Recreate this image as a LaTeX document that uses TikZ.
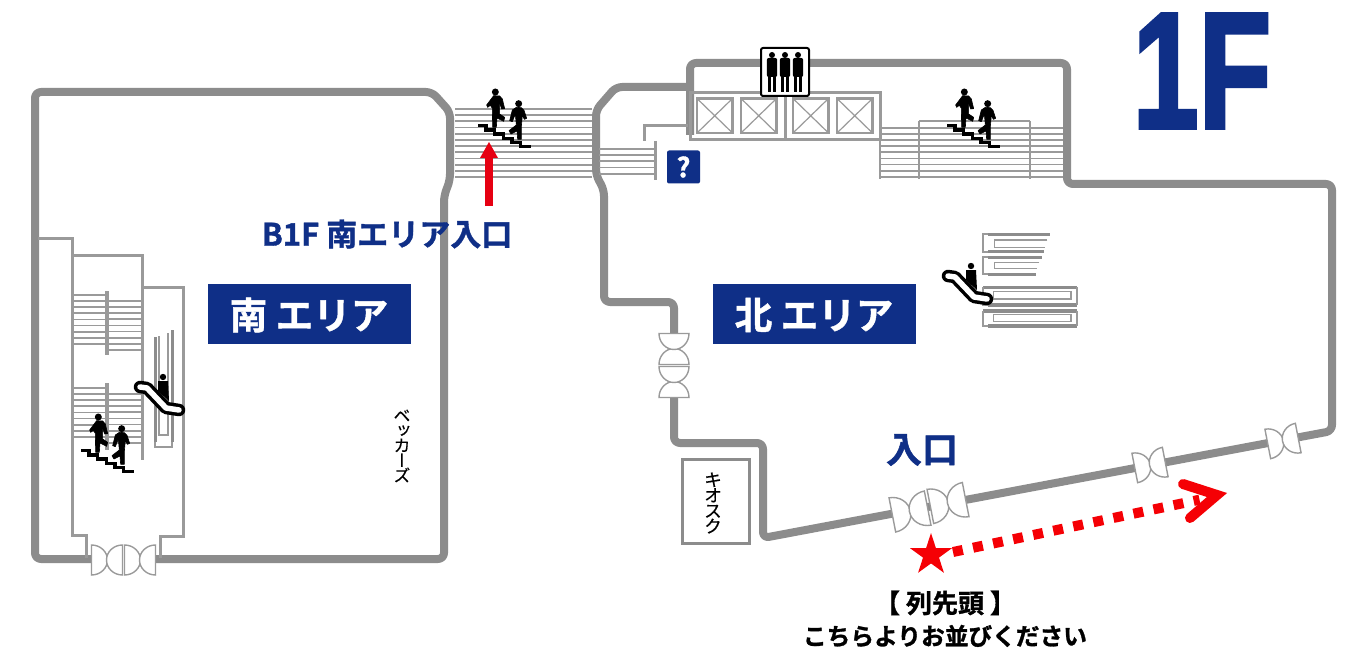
\documentclass[tikz,border=0pt]{standalone}
\usepackage{fontspec}
\usetikzlibrary{shapes.geometric}
\setmainfont{Noto Sans CJK JP}
\newfontfamily\jp{Noto Sans CJK JP}
\newfontfamily\jph[FakeBold=1.2]{Noto Sans CJK JP Bold}
\newfontfamily\jpv[RawFeature={+vert},FakeBold=0.4]{Noto Sans CJK JP}
\newfontfamily\bigf[FakeBold=2.5]{Liberation Sans Bold}
\definecolor{wallc}{HTML}{8C8C8C}
\definecolor{thinc}{HTML}{9A9A9A}
\definecolor{navyc}{HTML}{0F2F87}
\definecolor{redc}{HTML}{E60012}
\definecolor{dotc}{HTML}{F50005}
\tikzset{
 wall/.style={draw=wallc,line width=8,rounded corners=6,line join=round},
 thinwall/.style={draw=thinc,line width=3},
 stairline/.style={draw=thinc,line width=1.8},
 blockthick/.style={draw=wallc,line width=3.2},
 blockthin/.style={draw=thinc,line width=1.6},
 xbox/.style={draw=thinc,line width=2.4},
 label/.style={inner sep=0,outer sep=0},
 pics/doorunit/.style={code={
  \path[draw=thinc,line width=1.4,fill=white] (-15.5,-15) .. controls (-6.7,-15) and (0.5,-8.3) .. (0.5,0) .. controls (0.5,8.3) and (-6.7,15) .. (-15.5,15) -- cycle;
  \path[draw=thinc,line width=1.4,fill=white] (15.5,-15) .. controls (6.7,-15) and (-0.5,-8.3) .. (-0.5,0) .. controls (-0.5,8.3) and (6.7,15) .. (15.5,15) -- cycle;
 }},
 pics/walkers/.style={code={
  \begin{scope}[x=.33333pt,y=-.33333pt,shift={(-113,-285)}]
   \draw[black,line width=3.2,line join=miter] (113,287) -- (137,287) -- (137,300) -- (163,300) -- (163,312) -- (189,312) -- (189,325) -- (215,325) -- (215,338) -- (241,338) -- (241,350) -- (273,350);
   \fill[black] (165,186) circle[radius=3.5pt];
   \filldraw[black,line width=.6,line join=round] (160,197) -- (178,198) -- (186,207) -- (193,236) -- (184,237) -- (178,220) -- (178,252) -- (193,262) -- (190,274) -- (170,264) -- (168,292) -- (157,292) -- (156,235) -- (150,226) -- (142,232) -- (139,225) -- cycle;
   \fill[black] (235,221) circle[radius=3.5pt];
   \filldraw[black,line width=.6,line join=round] (228,232) -- (243,233) -- (251,241) -- (259,265) -- (252,268) -- (246,256) -- (243,290) -- (243,328) -- (232,328) -- (230,303) -- (212,312) -- (206,302) -- (228,285) -- (225,252) -- (216,275) -- (208,272) -- (216,240) -- cycle;
  \end{scope}
 }},
 pics/escal/.style={code={
  \fill[black] (23,-10) circle[radius=3.2];
  \fill[black] (18,-6) -- (28,-6) -- (29,14) -- (18,4) -- cycle;
  \draw[black,line width=12.5,line cap=round,line join=round] (0,0) -- (7,1) -- (26,21) -- (39,23);
  \draw[white,line width=5.5,line cap=round,line join=round] (0,0) -- (7,1) -- (26,21) -- (39,23);
 }},
 pics/person/.style={code={
  \fill[black] (0,0) circle[radius=3];
  \fill[black,rounded corners=2] (-5.2,3) rectangle (5.2,22);
  \fill[black] (-4,21) rectangle (-1.2,37);
  \fill[black] (1.2,21) rectangle (4,37);
 }},
}
\begin{document}
\begin{tikzpicture}[x=1pt,y=-1pt]
\useasboundingbox (0,0) rectangle (1350,658);
\fill[white] (0,0) rectangle (1350,658);

% ---- walls
\path[wall] (92,559) -- (35,559) -- (35,92) -- (432,92) -- (450,112) -- (450,180) -- (444,196) -- (444,559) -- (155,559);
\path[wall] (690,135) -- (690,63) -- (1067,63) -- (1067,184) -- (1332,184) -- (1332,431) -- (763,538) -- (763,443) -- (674,443) -- (674,397);
\path[wall,line cap=butt] (690,87) -- (616,87) -- (596,110) -- (596,175) -- (604,190) -- (604,302) -- (674,302) -- (674,335);

% ---- south stairwell
\draw[thinwall,line join=miter] (38,238) -- (72,238) -- (72,535) -- (86,535) -- (86,558);
\draw[thinwall] (72,255) -- (142,255) -- (142,460);
\draw[thinwall,line join=miter] (142,287) -- (183,287) -- (183,536) -- (160,536) -- (160,558);
\foreach \y in {295,301.1,...,344.5} \draw[stairline] (73,\y) -- (107,\y);
\foreach \y in {301,307.1,...,350.5} \draw[stairline] (107,\y) -- (141,\y);
\foreach \y in {388,394.1,...,437.5} \draw[stairline] (73,\y) -- (107,\y);
\foreach \y in {394,400.1,...,443.5} \draw[stairline] (107,\y) -- (141,\y);
\draw[thinc,line width=3.4] (107,291) -- (107,355);
\draw[thinc,line width=3.4] (107,383) -- (107,450);
% south escalator shaft
\draw[wallc,line width=3] (155,337) -- (155,442);
\draw[wallc,line width=3] (172,330) -- (172,442);
\draw[thinc,line width=1.4] (159,336) -- (159,435) -- (168,435) -- (168,333);
\draw[thinc,line width=1.4] (155,442) -- (155,447) -- (172,447) -- (172,442);
\pic at (140,387) {escal};
\pic at (81,450) {walkers};

% ---- doors
\pic at (107,560) {doorunit};
\pic at (140,560) {doorunit};
\pic[rotate=90] at (674,349) {doorunit};
\pic[rotate=90] at (674,382) {doorunit};
\pic[rotate=11,scale=1.16] at (910,511.5) {doorunit};
\pic[rotate=11,scale=1.16] at (948,503) {doorunit};
\pic[rotate=11] at (1150,465) {doorunit};
\pic[rotate=11] at (1283,441) {doorunit};

% ---- connecting stairs
\foreach \y in {109,115.2,...,177.5} \draw[stairline] (455,\y) -- (592,\y);
\foreach \y in {149,155.2,...,174.5} \draw[stairline] (599,\y) -- (654,\y);
\draw[thinc,line width=3] (655,141) -- (655,180);
\draw[thinc,line width=3,line join=miter] (644,141) -- (644,126) -- (688,126);
\pic at (478,125) {walkers};

% ---- elevators
\draw[thinc,line width=3] (690,93) rectangle (880,140);
\draw[thinc,line width=3] (785,93) -- (785,140);
\foreach \x in {697,741,793,837}{
 \draw[xbox] (\x,98.5) rectangle ++(35.5,34.5);
 \draw[thinc,line width=1.2] (\x,98.5) -- ++(35.5,34.5) (\x+35.5,98.5) -- ++(-35.5,34.5);
}
\foreach \y in {128,134.1,...,177.5} \draw[stairline] (880,\y) -- (1063,\y);
\draw[stairline] (919,121) -- (1030,121);
\draw[thinc,line width=2.4] (880,140) -- (880,179);
\draw[thinc,line width=2.4] (919,121) -- (919,179);
\draw[thinc,line width=2.4] (1030,121) -- (1030,179);
\pic at (947,125) {walkers};
\draw[black,line width=2,fill=white,rounded corners=2] (761,48) rectangle (809,96);
\pic at (772,55) {person};
\pic at (785,55) {person};
\pic at (798,55) {person};

% ---- info
\node[label,fill=navyc,rounded corners=2,minimum width=33,minimum height=33,text=white,font=\jph\fontsize{27}{27}\selectfont] (info) at (683.5,167) {?};

% ---- north escalator block
\begin{scope}[x=.33333pt,y=-.33333pt,shift={(2790,675)}]
 \draw[blockthick] (175,28) -- (360,28) (175,80) -- (342,80) (175,97) -- (335,97) (175,148) -- (317,148) (160,187) -- (442,187) (175,240) -- (442,240) (160,258) -- (442,258) (175,303) -- (442,303);
 \draw[thinc,line width=2] (175,28) -- (160,28) -- (160,80) -- (175,80) (175,97) -- (160,97) -- (160,148) -- (175,148) (160,187) -- (160,240) -- (175,240) (442,187) -- (442,240) (160,258) -- (160,303) -- (175,303) (442,258) -- (442,303);
 \draw[blockthin] (352,45) -- (193,45) -- (193,68) -- (345,68) (328,112) -- (193,112) -- (193,130) -- (322,130);
 \draw[blockthin] (190,200) rectangle (423,222) (190,268) rectangle (423,290);
\end{scope}
\pic at (948,276) {escal};

% ---- labels
\node[label,fill=navyc,minimum width=203,minimum height=60] (southbox) at (309.5,314) {};
\node[label,text=white,font=\jph\fontsize{37.5}{38}\selectfont] (southtxt) at (309,315) {南 エリア};
\node[label,fill=navyc,minimum width=203,minimum height=60] (northbox) at (814.5,314) {};
\node[label,text=white,font=\jph\fontsize{37.5}{38}\selectfont] (northtxt) at (814,315) {北 エリア};
\node[label,text=navyc,font=\jph\fontsize{31}{31}\selectfont] (b1f) at (387,234) {B1F 南エリア入口};
\node[label,text=navyc,font=\jph\fontsize{36}{36}\selectfont] (entry) at (922,450) {入口};
\node[label,align=center,font=\jpv\fontsize{17}{15}\selectfont] (bk) at (402,446) {ベ\\ッ\\カ\\ー\\ズ};
\draw[wallc,line width=3] (682,459) rectangle (749,543);
\node[label,align=center,font=\jpv\fontsize{18}{15.5}\selectfont] (kiosk) at (713,503) {キ\\オ\\ス\\ク};
\node[label,text=navyc,xscale=.72,font=\bigf\fontsize{165}{165}\selectfont] (floor) at (1202,71) {1F};
\node[label,font=\jph\fontsize{26}{26}\selectfont] (head) at (945,603) {【 列先頭 】};
\node[label,font=\jph\fontsize{23.7}{24}\selectfont] (here) at (945,636) {こちらよりお並びください};

% ---- red marks
\coordinate (upbot) at (489,206);
\coordinate (uptop) at (489,156);
\draw[redc,line width=8] (upbot) -- (uptop);
\fill[redc] (480,158) -- (489,142) -- (498,158) -- cycle;
\node[label,star,star points=5,star point ratio=2.618,fill=dotc,minimum size=44] (star) at (931,555) {};
\coordinate (dotstart) at (953,552);
\coordinate (dotend) at (1199.5,499.7);
\draw[dotc,line width=10,dash pattern=on 10 off 10.5] (dotstart) -- (dotend);
\coordinate (c1) at (1183,484);
\coordinate (c2) at (1217,495);
\coordinate (c3) at (1190,518);
\draw[dotc,line width=10,line cap=round,line join=miter] (c1) -- (c2) -- (c3);
\end{tikzpicture}
\end{document}
